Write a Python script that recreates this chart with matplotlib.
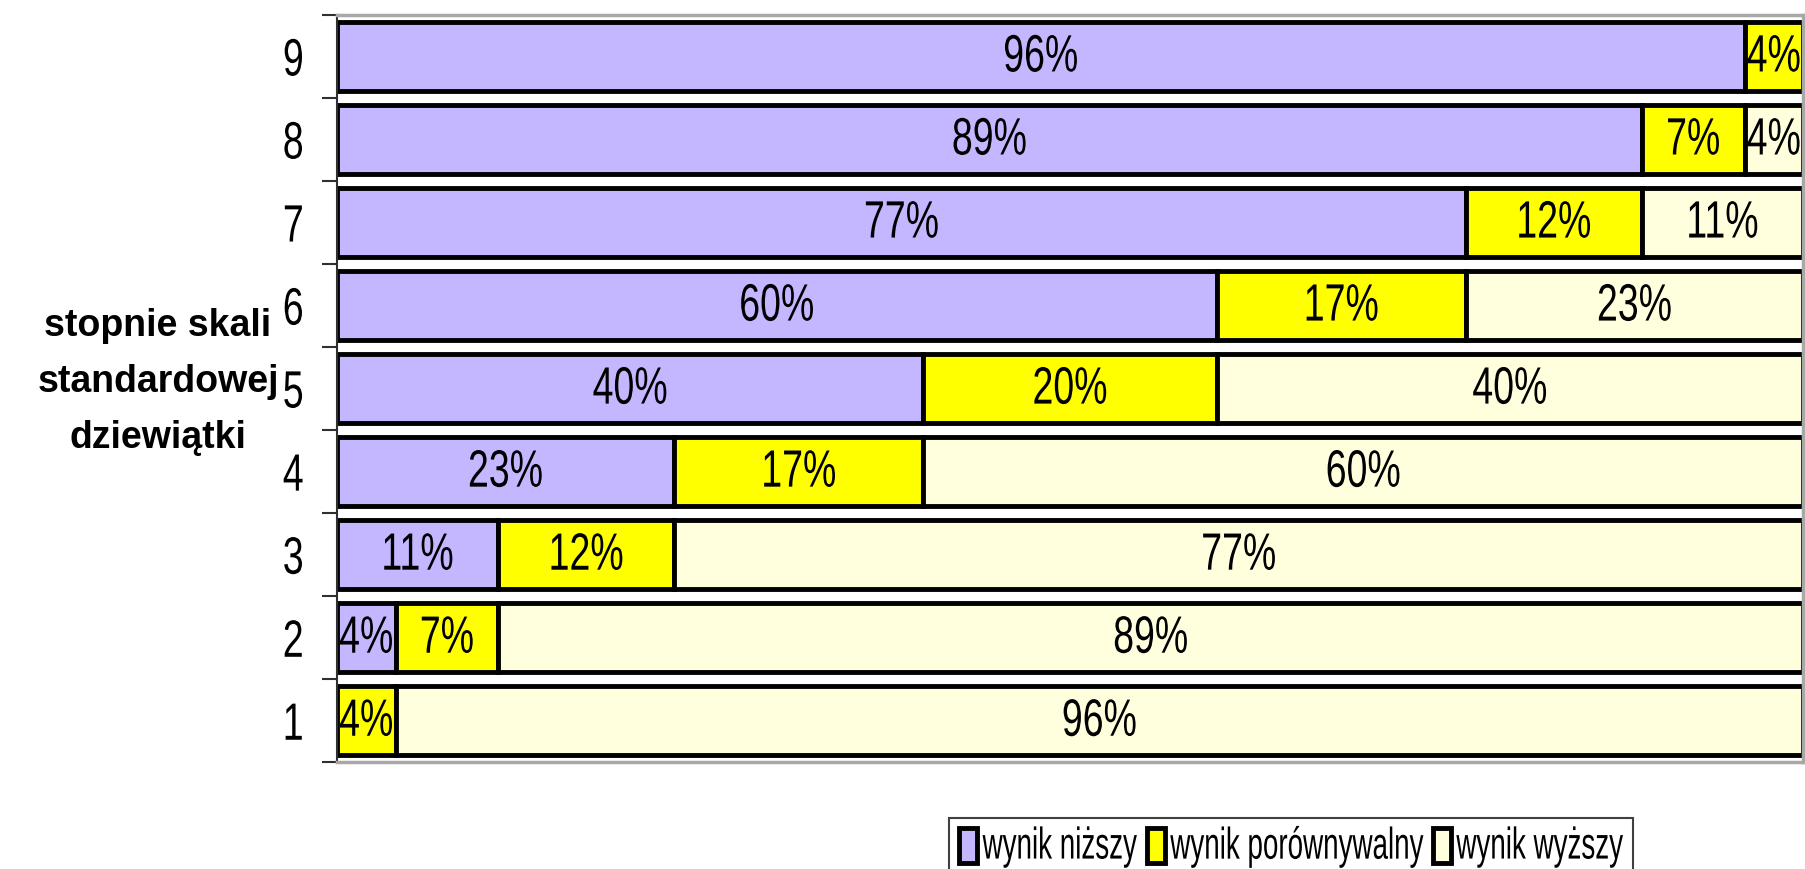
import numpy as np
import matplotlib
matplotlib.use('Agg')
import matplotlib.pyplot as plt
import matplotlib.patheffects as pe
from matplotlib.transforms import Affine2D
from matplotlib.ticker import FixedLocator

# stopnie skali (1..9) and percentages for each group
grades = ['1', '2', '3', '4', '5', '6', '7', '8', '9']
nizszy = [0, 4, 11, 23, 40, 60, 77, 89, 96]
porownywalny = [4, 7, 12, 17, 20, 17, 12, 7, 4]
wyzszy = [96, 89, 77, 60, 40, 23, 11, 4, 0]
series_names = ['wynik niższy', 'wynik porównywalny', 'wynik wyższy']
colors = ['#C4B6FF', '#FFFF00', '#FFFFDD']

plt.rcParams['font.family'] = ['Liberation Sans', 'DejaVu Sans']


# the original chart has tall, narrow lettering -> stretch glyphs vertically
class Stretch(pe.AbstractPathEffect):
    def __init__(self, sy):
        super().__init__()
        self.sy = sy

    def draw_path(self, renderer, gc, tpath, affine, rgbFace=None):
        pts = affine.transform(tpath.vertices)
        cy = (pts[:, 1].min() + pts[:, 1].max()) / 2
        t = affine + Affine2D().translate(0, -cy).scale(1, self.sy).translate(0, cy)
        renderer.draw_path(gc, tpath, t, rgbFace)


tall = [Stretch(1.4)]

fig = plt.figure(figsize=(18.05, 8.69), dpi=100)
ax = fig.add_axes([0.1867, 0.123, 0.8123, 0.860])

y = np.arange(1, len(grades) + 1)
left = np.zeros(len(grades))
bars = []
for vals, name, col in zip([nizszy, porownywalny, wyzszy], series_names, colors):
    vals = np.array(vals, dtype=float)
    b = ax.barh(y, vals, left=left, height=0.83, color=col,
                edgecolor='black', linewidth=3.5, label=name)
    bars.append(b)
    for yi, l, v in zip(y, left, vals):
        if v > 0:
            ax.text(l + v / 2, yi, f'{int(v)}%', ha='center', va='center',
                    fontsize=27, color='black', path_effects=tall)
    left += vals

ax.set_xlim(0, 100)
ax.set_ylim(0.5, 9.5)
ax.set_xticks([])
ax.set_yticks(y)
ax.set_yticklabels(grades, fontsize=27)
for t in ax.get_yticklabels():
    t.set_path_effects(tall)
ax.yaxis.set_minor_locator(FixedLocator(np.arange(0.5, 10, 1)))
ax.tick_params(axis='y', which='major', length=0, pad=24)
ax.tick_params(axis='y', which='minor', length=11, width=1.5, color='#303030')

ax.spines['left'].set_color('#303030')
ax.spines['left'].set_linewidth(1.5)
for s in ['top', 'right', 'bottom']:
    ax.spines[s].set_color('#a8a8a8')
    ax.spines[s].set_linewidth(2.5)

fig.text(158 / 1805, 1 - 382 / 869, 'stopnie skali\nstandardowej\ndziewiątki',
         ha='center', va='center', multialignment='center', fontsize=27,
         fontweight='bold', linespacing=1.7)

leg = fig.legend(handles=bars, labels=series_names, loc='upper center',
                 bbox_to_anchor=(1291 / 1805, 1 - 818 / 869), ncol=3,
                 fontsize=20, frameon=True, fancybox=False, framealpha=1,
                 edgecolor='#404040', handlelength=0.65, handleheight=1.55,
                 handletextpad=0.2, columnspacing=0.35, borderpad=0.35,
                 borderaxespad=0)
leg.get_frame().set_linewidth(1.5)
for t in leg.get_texts():
    t.set_path_effects([Stretch(1.6)])

fig.savefig('out.png', dpi=100)
